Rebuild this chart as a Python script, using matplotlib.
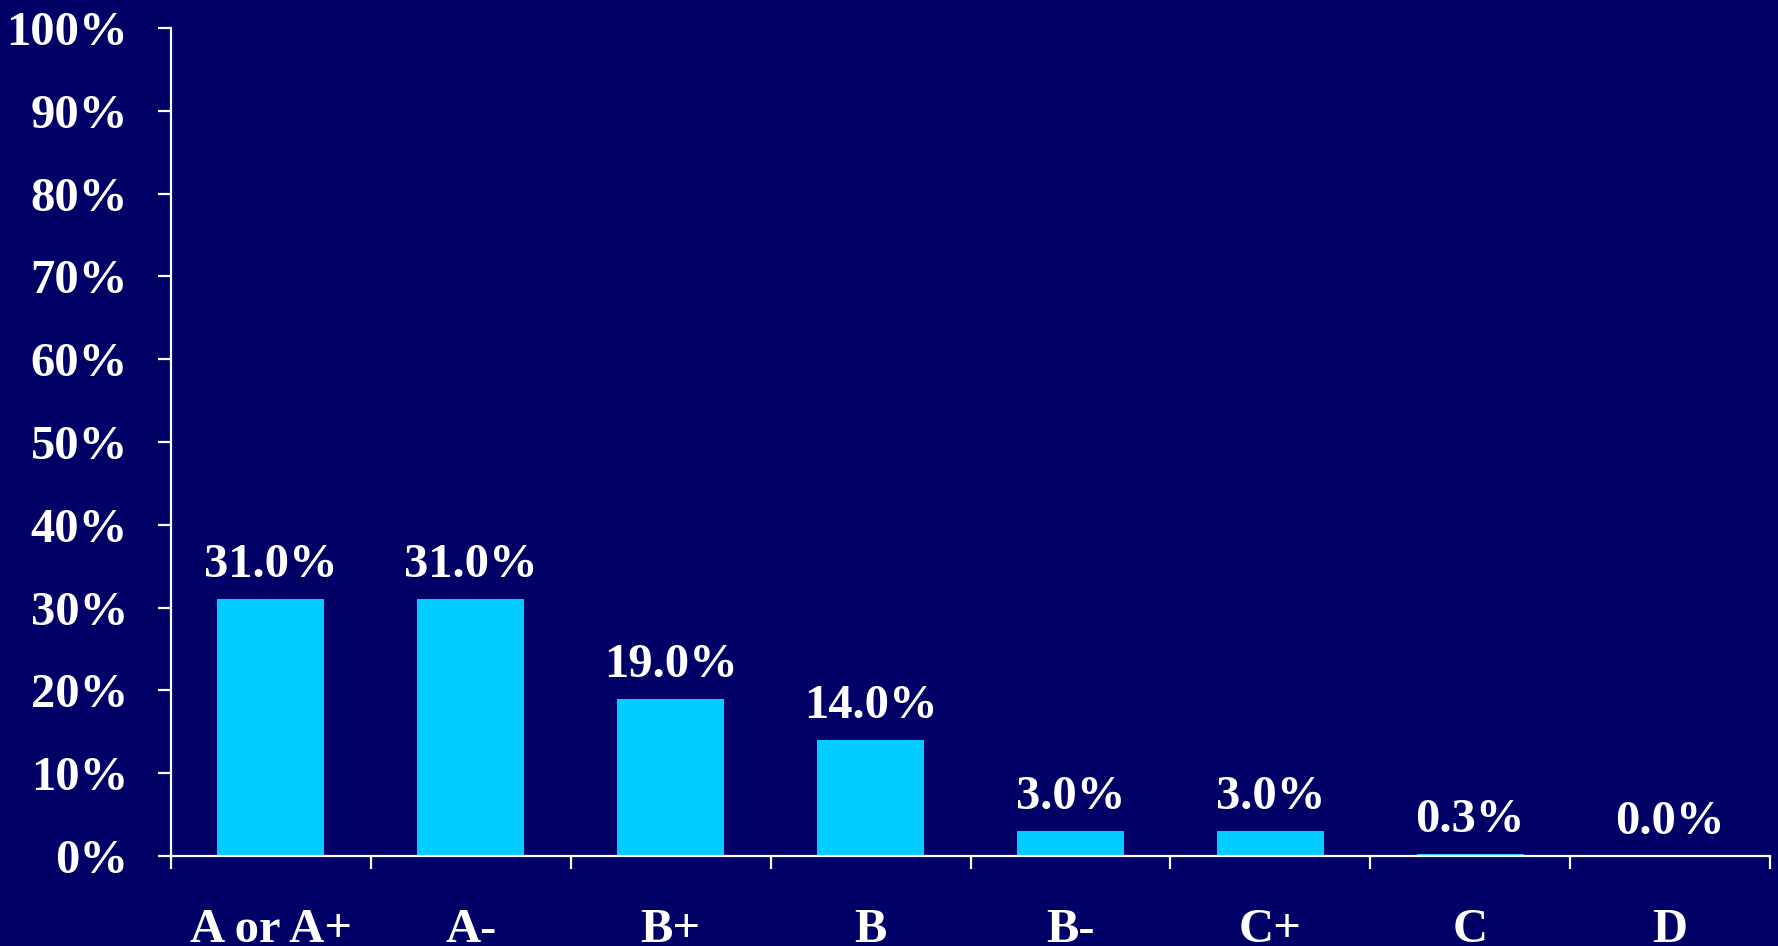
import matplotlib
matplotlib.use("Agg")
import matplotlib.pyplot as plt
import numpy as np

categories = ["A or A+", "A-", "B+", "B", "B-", "C+", "C", "D"]
values = [31.0, 31.0, 19.0, 14.0, 3.0, 3.0, 0.3, 0.0]
yticks = [0, 10, 20, 30, 40, 50, 60, 70, 80, 90, 100]
ytick_labels = [f"{v}%" for v in yticks]

BG = "#000066"
BAR = "#00CCFF"
FONT = ["Liberation Serif", "DejaVu Serif"]
FS = 35

W, H = 1778, 946
fig = plt.figure(figsize=(W / 100, H / 100), dpi=100, facecolor=BG)
ax = fig.add_axes([171 / W, (H - 856) / H, (1770 - 171) / W, (856 - 28) / H])
ax.set_facecolor(BG)

x = np.arange(len(categories))
ax.bar(x, values, width=0.535, color=BAR, edgecolor="none", zorder=2)

ax.set_xlim(-0.5, len(categories) - 0.5)
ax.set_ylim(0, 100)

for s in ["top", "right"]:
    ax.spines[s].set_visible(False)
for s in ["left", "bottom"]:
    ax.spines[s].set_color("white")
    ax.spines[s].set_linewidth(1.6)
    ax.spines[s].set_zorder(3)

ax.set_yticks(yticks)
ax.set_yticklabels(ytick_labels, fontfamily=FONT, fontsize=FS, fontweight="bold", color="white")
ax.tick_params(axis="y", direction="out", length=9.5, width=1.6, color="white", pad=21.5)

ax.set_xticks(np.arange(len(categories) + 1) - 0.5)
ax.set_xticklabels([])
ax.tick_params(axis="x", direction="out", length=9.5, width=1.6, color="white")

for i, c in enumerate(categories):
    ax.annotate(c, xy=(i, 0), xycoords=("data", "axes fraction"),
                xytext=(0, -86), textcoords="offset pixels",
                ha="center", va="baseline", fontfamily=FONT, fontsize=FS,
                fontweight="bold", color="white", annotation_clip=False)

for i, v in enumerate(values):
    ax.annotate(f"{v:.1f}%", xy=(i, v), xycoords="data",
                xytext=(0, 22), textcoords="offset pixels",
                ha="center", va="baseline", fontfamily=FONT, fontsize=FS,
                fontweight="bold", color="white")

fig.savefig("out.png", dpi=100, facecolor=BG)
